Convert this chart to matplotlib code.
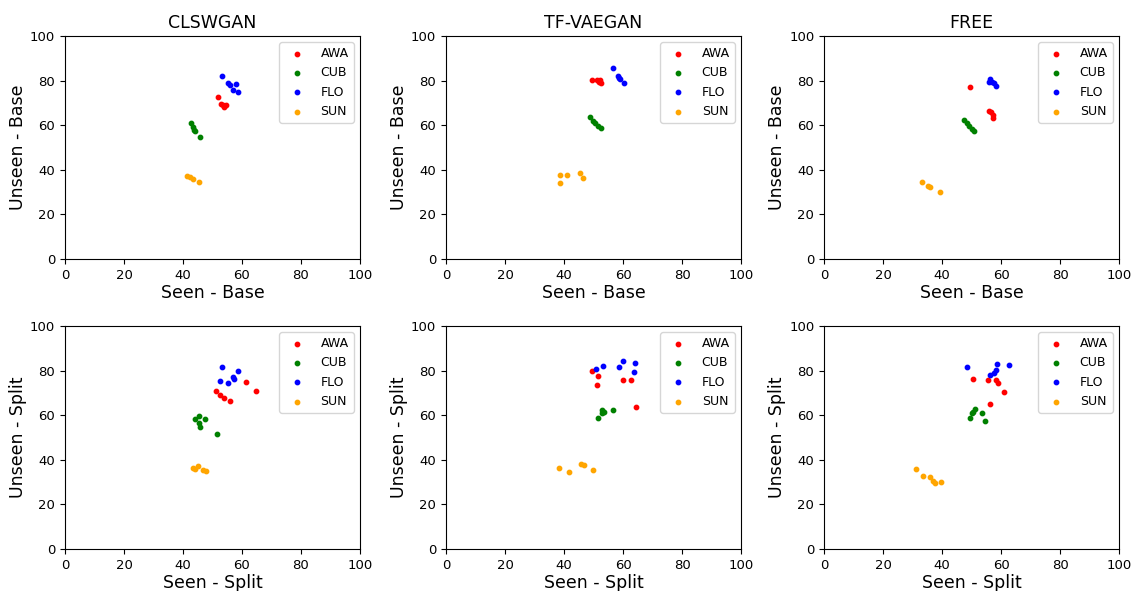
import matplotlib.pyplot as plt

methods = ["CLSWGAN", "TF-VAEGAN", "FREE"]
datasets = ["AWA", "CUB", "FLO", "SUN"]
colors = ["red", "green", "blue", "orange"]

# (seen, unseen) per dataset -- Base setting
clswgan_base = {
    "AWA": ([51.8, 52.9, 53.4, 54.0, 54.5], [72.6, 69.4, 68.9, 68.3, 69.1]),
    "CUB": ([42.7, 43.3, 43.7, 44.1, 45.9], [60.8, 59.3, 57.8, 57.4, 54.8]),
    "FLO": ([53.3, 55.1, 56.0, 57.9, 57.0, 58.5], [82.2, 79.1, 78.0, 78.6, 75.8, 74.9]),
    "SUN": ([41.2, 42.4, 43.5, 45.5], [37.2, 36.9, 35.9, 34.7]),
}
tfvaegan_base = {
    "AWA": ([49.4, 51.3, 52.0, 52.7, 52.2], [80.3, 80.3, 79.5, 78.9, 80.3]),
    "CUB": ([48.8, 49.7, 50.5, 51.6, 52.5], [63.5, 62.0, 60.8, 59.6, 58.6]),
    "FLO": ([56.7, 58.2, 58.7, 59.0, 60.3], [85.6, 82.2, 81.3, 80.7, 78.8]),
    "SUN": ([38.6, 41.1, 38.6, 45.4, 46.3], [37.7, 37.7, 33.9, 38.4, 36.5]),
}
free_base = {
    "AWA": ([49.6, 55.8, 56.6, 57.2, 57.2], [77.0, 66.5, 65.8, 64.6, 63.1]),
    "CUB": ([47.5, 48.5, 49.0, 50.2, 50.9], [62.2, 61.1, 59.6, 58.2, 57.5]),
    "FLO": ([55.8, 56.4, 56.9, 57.5, 58.4], [79.5, 80.6, 79.5, 78.8, 77.6]),
    "SUN": ([33.2, 35.2, 35.8, 39.4], [34.7, 32.9, 32.4, 30.2]),
}

# Split setting
clswgan_split = {
    "AWA": ([61.2, 64.9, 51.3, 52.4, 54.0, 55.8], [75.0, 71.0, 71.0, 69.1, 67.9, 66.5]),
    "CUB": ([45.5, 44.0, 47.4, 45.5, 45.9, 51.5], [59.8, 58.3, 58.3, 56.4, 54.8, 51.4]),
    "FLO": ([53.3, 58.7, 57.1, 57.3, 52.4, 55.1], [81.7, 80.0, 77.3, 76.1, 75.3, 74.6]),
    "SUN": ([43.3, 45.0, 44.1, 46.9, 47.8], [36.5, 37.2, 36.0, 35.4, 35.0]),
}
tfvaegan_split = {
    "AWA": ([49.5, 51.6, 51.1, 60.1, 62.7, 64.3], [80.0, 77.7, 73.7, 75.6, 75.6, 63.7]),
    "CUB": ([53.0, 53.7, 52.8, 56.5, 51.6], [62.3, 61.6, 60.9, 62.2, 58.9]),
    "FLO": ([50.7, 53.2, 60.1, 58.5, 64.0, 63.6], [80.7, 82.1, 84.4, 81.6, 83.5, 79.2]),
    "SUN": ([38.4, 41.7, 45.7, 46.8, 49.7], [36.2, 34.7, 38.0, 37.5, 35.4]),
}
free_split = {
    "AWA": ([50.5, 55.7, 58.4, 59.1, 61.1, 56.3], [76.4, 75.6, 75.6, 74.4, 70.5, 65.0]),
    "CUB": ([51.1, 50.5, 50.2, 53.6, 49.4, 54.5], [62.6, 61.6, 61.1, 60.8, 58.9, 57.4]),
    "FLO": ([48.4, 58.6, 62.6, 58.3, 57.5, 56.4], [81.6, 83.0, 82.5, 80.3, 78.8, 78.0]),
    "SUN": ([31.2, 33.4, 35.8, 37.0, 37.7, 39.7], [35.9, 32.9, 32.3, 30.5, 29.5, 29.9]),
}

rows = [
    ("Base", [clswgan_base, tfvaegan_base, free_base]),
    ("Split", [clswgan_split, tfvaegan_split, free_split]),
]

fig = plt.figure(figsize=(11.32, 5.91), dpi=100)
lefts = [0.0574, 0.394, 0.7280]
bottoms = [0.5618, 0.0711]
w, h = 0.2606, 0.3773

for r, (setting, results) in enumerate(rows):
    for c, res in enumerate(results):
        ax = fig.add_axes([lefts[c], bottoms[r], w, h])
        for ds, col in zip(datasets, colors):
            xs, ys = res[ds]
            ax.scatter(xs, ys, s=10, color=col, label=ds)
        ax.set_xlim(0, 100)
        ax.set_ylim(0, 100)
        ax.set_xlabel("Seen - " + setting, fontsize=12.5, labelpad=2)
        ax.set_ylabel("Unseen - " + setting, fontsize=12.5, labelpad=2)
        ax.tick_params(labelsize=9.5)
        if r == 0:
            ax.set_title(methods[c], fontsize=12.5)
        ax.legend(loc="upper right", fontsize=9, handletextpad=0.9)

fig.savefig("out.png", dpi=100)
